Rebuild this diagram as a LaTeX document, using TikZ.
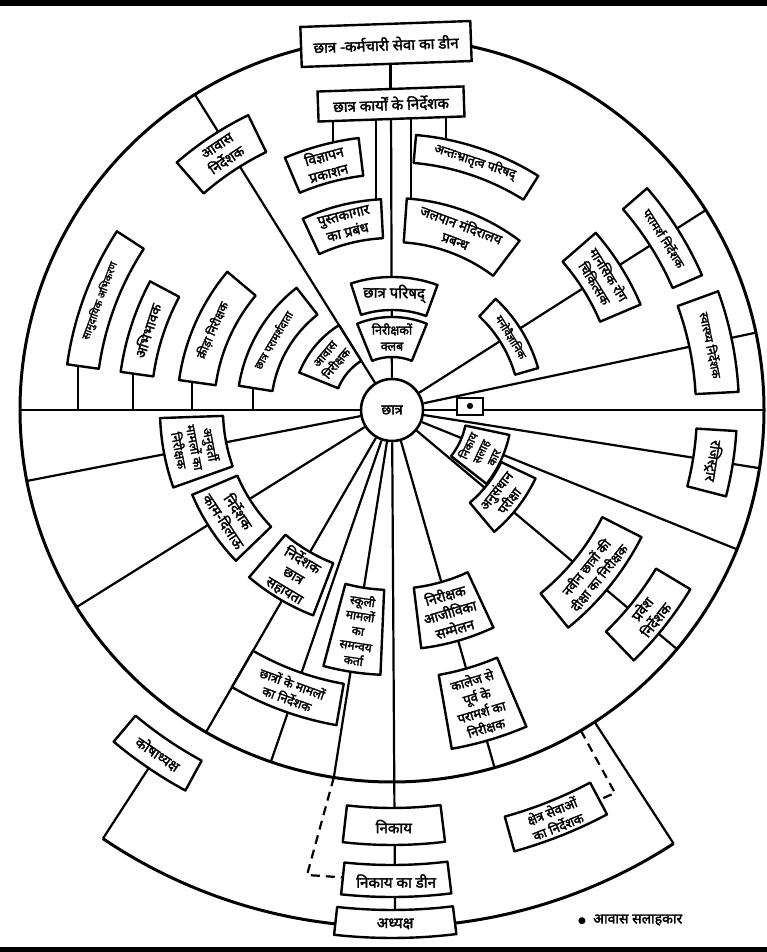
\documentclass[tikz,border=0pt]{standalone}
\usepackage{fontspec}
\newfontfamily\dev[Script=Devanagari,FakeBold=2.2]{Noto Sans}
\newfontfamily\sym{DejaVu Sans}
\usetikzlibrary{calc}
\pgfdeclarelayer{bg}
\pgfsetlayers{bg,main}
\tikzset{
  bx/.style={draw,fill=white,line width=2.4pt,line join=round},
  lbl/.style={font=\dev\fontsize{14}{17.5}\selectfont,align=center,inner sep=0pt},
  s105/.style={font=\dev\fontsize{10.5}{13}\selectfont},
  s11/.style={font=\dev\fontsize{11}{14}\selectfont},
  s115/.style={font=\dev\fontsize{11.5}{14}\selectfont},
  s12/.style={font=\dev\fontsize{12}{15}\selectfont},
  s125/.style={font=\dev\fontsize{12.5}{16}\selectfont},
  s13/.style={font=\dev\fontsize{13}{16.5}\selectfont},
  s135/.style={font=\dev\fontsize{13.5}{17}\selectfont},
  s15/.style={font=\dev\fontsize{15}{18}\selectfont},
  ln/.style={line width=2.2pt},
  ring/.style={line width=3pt},
  dsh/.style={line width=2.2pt,dash pattern=on 9pt off 6pt},
  rbox/.style={lbl,draw,fill=white,line width=2.4pt,inner sep=2pt}
}
\newcommand\sect[8][]{%
  \draw[bx,shift={(C)}] (#3:#5) -- (#3:#6) arc[start angle=#3,end angle=#4,radius=#6] -- (#4:#5) arc[start angle=#4,end angle=#3,radius=#5] -- cycle;
  \node[lbl,rotate=#7,#1] (#2) at ($(C)+({(#3+#4)/2}:{(#5+#6)/2})$) {#8};}
\begin{document}
\begin{tikzpicture}[x=1pt,y=1pt]
\useasboundingbox (0,0) rectangle (767,952);
\begin{pgfonlayer}{bg}
\fill[white] (0,0) rectangle (767,952);
\end{pgfonlayer}
\fill[black] (0,946) rectangle (767,952);
\fill[black] (0,0) rectangle (767,5);
\coordinate (C) at (392,542);
\node[lbl,circle,draw,fill=white,line width=2.6pt,minimum size=62pt] (ctr) at (C) {छात्र};
\node[rbox,s15,rotate=2,minimum width=170pt,minimum height=40pt] (topbox) at (386,908) {छात्र -कर्मचारी सेवा का डीन};
\node[rbox,s15,rotate=2,minimum width=146pt,minimum height=30pt] (dir) at (391,848) {छात्र कार्यों के निर्देशक};
\sect{vigyapan}{97}{113}{236}{274}{15}{विज्ञापन\\प्रकाशन}
\sect{pustak}{93}{115}{172}{211}{14}{पुस्तकागार\\का प्रबंध}
\sect[s15]{parishad}{70}{108}{100}{133}{-1}{छात्र परिषद्}
\sect[s125]{club}{68}{112}{53}{93}{0}{निरीक्षकों\\क्लब}
\sect[s125]{bhratri}{58}{85}{248}{276}{-18.5}{अन्तःभ्रातृत्व परिषद्}
\sect[s135]{jalpan}{53}{86}{168}{212}{-20.5}{जलपान मंदिरालय\\प्रबन्ध}
\sect{avasdir}{116}{131}{287}{328}{33.5}{आवास\\निर्देशक}
\sect[s12]{avasnir}{122}{158}{58}{100}{50}{आवास\\निरीक्षक}
\sect[s105]{samudayik}{147}{172}{296}{328}{69.5}{सामुदायिक अभिकरण}
\sect{abhibhavak}{152}{172}{241}{274}{72}{अभिभावक}
\sect[s12]{krida}{140}{172}{178}{215}{66}{क्रीड़ा निरीक्षक}
\sect[s11]{pdata}{128}{171}{121}{155}{59.5}{छात्र परामर्शदाता}
\sect[s11]{mano}{16}{47}{128}{152}{-58.5}{मनोवैज्ञानिक}
\sect[s13]{mansik}{23}{41}{226}{270}{-58}{मानसिक रोग\\चिकित्सक}
\sect[s12]{pnirdeshak}{23.5}{41}{306}{338}{-57.75}{परामर्श निर्देशक}
\sect[s12]{swasthya}{3}{20}{304}{347}{-78.5}{स्वास्थ्य निर्देशक}
\sect{registrar}{-14.5}{-3.5}{305}{345}{-99}{रजिस्ट्रार}
\sect[s115]{nslh}{-38}{-12}{75}{120}{65}{निकाय\\सलाह\\कार}
\sect[s13]{anusandhan}{-50}{-25.5}{121}{159}{52}{अनुसंधान\\परीक्षा}
\sect[s13]{naveen}{-51}{-27}{236}{280}{51}{नवीन छात्रों की\\दीक्षा का निरीक्षक}
\sect{pravesh}{-46}{-31}{308}{348}{51.5}{प्रवेश\\निर्देशक}
\sect{ajivika}{277}{295}{179}{240}{16}{निरीक्षक\\आजीविका\\सम्मेलन}
\sect[s13]{college}{280}{293}{269}{344}{16.5}{कालेज से\\पूर्व के\\परामर्श का\\निरीक्षक}
\sect[s125]{anuvarti}{182}{199.5}{169}{232}{-79.25}{अनुवर्ती\\मामलों का\\निरीक्षक}
\sect{kamdilau}{203}{224}{168}{217}{-56.5}{निर्देशक\\काम-दिलाऊ}
\sect{sahayata}{229.5}{249}{164}{220}{-30.75}{निर्देशक\\छात्र\\सहायता}
\sect[s125]{mamle}{240}{260}{278}{320}{-20}{छात्रों के मामलों\\का निर्देशक}
\sect[s12]{skuli}{255}{267.5}{180}{265}{-8.75}{स्कूली\\मामलों\\का\\समन्वय\\कर्ता}
\sect{kosha}{230}{241.5}{399}{433}{-34}{कोषाध्यक्ष}
\sect[s13]{kshetra}{285.5}{298}{422}{458}{21.75}{क्षेत्र सेवाओं\\का निर्देशक}
\sect[s15]{nikay}{263.5}{277}{398}{435}{0}{निकाय}
\sect[s15]{dean}{264}{277}{455}{487}{0}{निकाय का डीन}
\sect[s15]{adhyaksh}{263.7}{277}{500}{528}{0}{अध्यक्ष}
\node[rbox,minimum width=26pt,minimum height=17pt,inner sep=0pt] (dotbox) at (470,545.5) {\sym\fontsize{8}{8}\selectfont ●};
\node[lbl,anchor=west] (legend) at (578,32) {{\sym\fontsize{9}{9}\selectfont ●}\ \ आवास सलाहकार};
\coordinate (oL) at ($(C)+(236:517)$);
\coordinate (dl) at (307,77);
\coordinate (dr) at (615,159);
\begin{pgfonlayer}{bg}
\draw[ring] (C) circle[radius=372];
\draw[ring] (oL) arc[start angle=236,end angle=303,radius=517];
\draw[ln] ($(C)+(303:372)$) -- ($(C)+(303:517)$);
\draw[ln] (kosha) -- (oL);
\foreach \a in {0,12,32.5,122,180,191,212,240,251,261,286,320,338,351}
  \draw[ln] (ctr) -- ($(C)+(\a:372)$);
\draw[ln] (ctr) -- (adhyaksh);
\draw[ln] (ctr) -- (dir);
\draw[ln] (dir.north) -- (dir.north |- topbox.south);
\draw[ln] (333,848) -- (333,785);
\draw[ln] (376,848) -- (376,735);
\draw[ln] (411,848) -- (411,720);
\draw[ln] (446,848) -- (446,790);
\draw[ln] (78,542) -- (78,590);
\draw[ln] (133,542) -- (133,583);
\draw[ln] (192,542) -- (192,575);
\draw[ln] (253,542) -- (253,569);
\draw[dsh] ($(C)+(261:372)$) -- (dl) -- (dean);
\draw[dsh] ($(C)+(300.5:372)$) -- (dr) -- (kshetra);
\end{pgfonlayer}
\end{tikzpicture}
\end{document}
